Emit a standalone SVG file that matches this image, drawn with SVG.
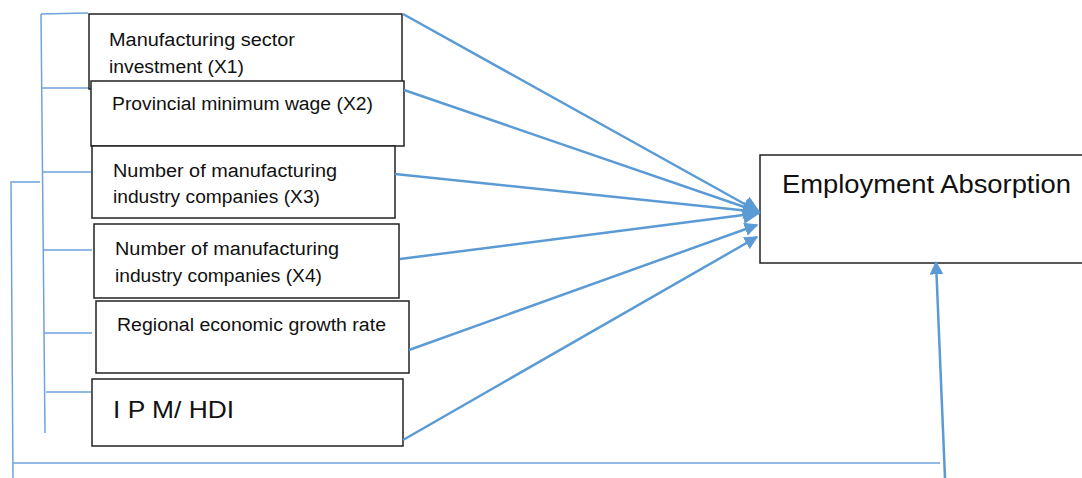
<svg xmlns="http://www.w3.org/2000/svg" width="1082" height="478" viewBox="0 0 1082 478">
<style>
.box{fill:#fff;stroke:#222;stroke-width:1.5}
.t{font-family:"Liberation Sans",Arial,sans-serif;font-size:18px;fill:#111}
.br{fill:none;stroke:#6FA3DA;stroke-width:1.5}
.ar{fill:none;stroke:#5B9BD5;stroke-width:2.5}
</style>
<defs>
<marker id="ah" viewBox="0 0 10 10" refX="9" refY="5" markerWidth="7" markerHeight="7" orient="auto" markerUnits="strokeWidth">
<path d="M0,0 L10,5 L0,10 z" fill="#5B9BD5"/>
</marker>
<marker id="ahs" viewBox="0 0 10 10" refX="9" refY="5" markerWidth="5.5" markerHeight="5.5" orient="auto" markerUnits="strokeWidth">
<path d="M0,0 L10,5 L0,10 z" fill="#5B9BD5"/>
</marker>
</defs>
<rect width="1082" height="478" fill="#fff"/>
<g id="brackets">
<path class="br" d="M41,14 L88,13 M41,14 L45,433 M41,88 L91,88 M42,172 L91,172 M43,250 L92,250 M44,333 L92,333 M46,392 L91,392"/>
<path class="br" d="M40,182 L11,182 L13,478 M13,463 L940,463"/>
</g>
<g id="x1"><rect class="box" x="89" y="14" width="313" height="75"/>
<text class="t" x="109" y="46" textLength="186" lengthAdjust="spacingAndGlyphs">Manufacturing sector</text>
<text class="t" x="109" y="73" textLength="135" lengthAdjust="spacingAndGlyphs">investment (X1)</text></g>
<g id="x2"><rect class="box" x="91" y="81" width="313" height="65"/>
<text class="t" x="112" y="110" textLength="261" lengthAdjust="spacingAndGlyphs">Provincial minimum wage (X2)</text></g>
<g id="x3"><rect class="box" x="92" y="146" width="303" height="72"/>
<text class="t" x="113" y="177" textLength="224" lengthAdjust="spacingAndGlyphs">Number of manufacturing</text>
<text class="t" x="113" y="203" textLength="207" lengthAdjust="spacingAndGlyphs">industry companies (X3)</text></g>
<g id="x4"><rect class="box" x="94" y="224" width="305" height="74"/>
<text class="t" x="115" y="255" textLength="224" lengthAdjust="spacingAndGlyphs">Number of manufacturing</text>
<text class="t" x="115" y="282" textLength="207" lengthAdjust="spacingAndGlyphs">industry companies (X4)</text></g>
<g id="x5"><rect class="box" x="96" y="301" width="313" height="72"/>
<text class="t" x="117" y="331" textLength="269" lengthAdjust="spacingAndGlyphs">Regional economic growth rate</text></g>
<g id="x6"><rect class="box" x="92" y="379" width="311" height="67"/>
<text class="t" x="113" y="418" style="font-size:24px" textLength="121" lengthAdjust="spacingAndGlyphs">I P M/ HDI</text></g>
<g id="y"><rect class="box" x="760" y="155" width="330" height="108"/>
<text class="t" x="782" y="193" style="font-size:25px" textLength="289" lengthAdjust="spacingAndGlyphs">Employment Absorption</text></g>
<g id="connectors">
<line class="ar" x1="403" y1="14" x2="759" y2="212" marker-end="url(#ah)"/>
<line class="ar" x1="404" y1="90" x2="759" y2="212" marker-end="url(#ah)"/>
<line class="ar" x1="395" y1="174" x2="759" y2="212" marker-end="url(#ah)"/>
<line class="ar" x1="400" y1="259" x2="759" y2="213" marker-end="url(#ah)"/>
<line class="ar" x1="409" y1="350" x2="757" y2="225" marker-end="url(#ahs)"/>
<line class="ar" x1="403" y1="440" x2="757" y2="237" marker-end="url(#ahs)"/>
<line class="ar" x1="945" y1="478" x2="936" y2="262" marker-end="url(#ahs)"/>
</g>
</svg>
